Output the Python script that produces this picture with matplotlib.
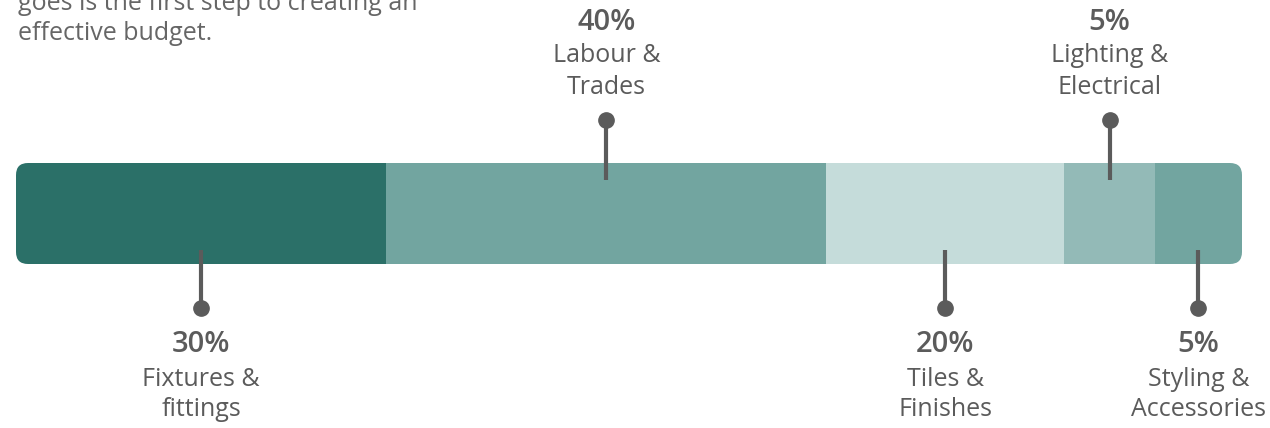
import matplotlib.pyplot as plt
from matplotlib.patches import FancyBboxPatch

# budget split, in the order it runs along the bar
categories = ["Fixtures &\nfittings", "Labour &\nTrades", "Tiles &\nFinishes",
              "Lighting &\nElectrical", "Styling &\nAccessories"]
percent_labels = ["30%", "40%", "20%", "5%", "5%"]
# share of the bar each block takes up as drawn
bar_share = [30.2, 35.9, 19.4, 7.4, 7.1]
label_side = ["below", "above", "below", "above", "below"]
colors = ["#2b7068", "#72a5a0", "#c5dcda", "#93bab7", "#72a5a0"]

intro_lines = ["goes is the first step to creating an", "effective budget."]

TEXT = "#5b5b5b"
FONT = ["Open Sans", "DejaVu Sans"]

W, H = 1270, 428
fig = plt.figure(figsize=(W / 100, H / 100), dpi=100)

# the bar axes sits exactly where the bar is
bar_left, bar_top, bar_w, bar_h = 16, 163, 1226, 101
ax = fig.add_axes([bar_left / W, (H - bar_top - bar_h) / H, bar_w / W, bar_h / H])
ax.set_xlim(0, sum(bar_share))
ax.set_ylim(0, 1)
ax.axis("off")

lefts = [sum(bar_share[:i]) for i in range(len(bar_share))]
bars = ax.barh(0.5, bar_share, left=lefts, height=1.0, color=colors, linewidth=0)

# rounded ends
radius = 12
clip = FancyBboxPatch((0, 0), 1, 1, boxstyle=f"round,pad=0,rounding_size={radius / bar_w}",
                      mutation_aspect=bar_w / bar_h, transform=ax.transAxes,
                      facecolor="none", edgecolor="none")
ax.add_patch(clip)
for b in bars:
    b.set_clip_path(clip)

px = 1.0 / bar_h  # one pixel in y data units
for left, share, pct, name, side in zip(lefts, bar_share, percent_labels, categories, label_side):
    xc = left + share / 2
    if side == "above":
        y0, y1 = 1 - 17 * px, 1 + 43 * px
        offs = [98, 64, 32]
    else:
        y0, y1 = 14 * px, -44 * px
        offs = [-36, -71, -102]
    ax.plot([xc, xc], [y0, y1], color=TEXT, lw=3, solid_capstyle="butt", clip_on=False, zorder=3)
    ax.plot(xc, y1, "o", color=TEXT, ms=11, clip_on=False, zorder=4)
    lines = [pct] + name.split("\n")
    for i, (txt, off) in enumerate(zip(lines, offs)):
        ax.annotate(txt, (xc, y1), xytext=(0, off), textcoords="offset pixels",
                    ha="center", va="center", color=TEXT, family=FONT,
                    fontsize=21 if i == 0 else 18, fontweight="semibold" if i == 0 else "normal",
                    annotation_clip=False)

# intro paragraph, its first line runs off the top edge as in the source
for i, line in enumerate(intro_lines):
    fig.text(18 / W, 1 - (3 + 31 * i) / H, line, ha="left", va="center",
             color="#666666", family=FONT, fontsize=18)

fig.savefig("out.png", dpi=100)
